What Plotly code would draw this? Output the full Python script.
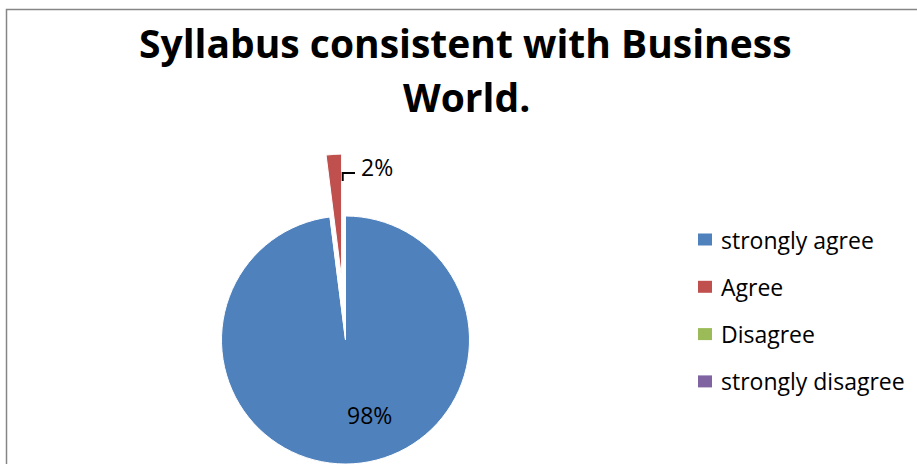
import plotly.graph_objects as go
import math

# ---- data ----
labels = ["strongly agree", "Agree", "Disagree", "strongly disagree"]
values = [98, 2, 0, 0]
colors = ["#4F81BD", "#C0504D", "#9BBB59", "#8064A2"]
title_lines = ["Syllabus consistent with Business", "World."]
pull_label = "Agree"
pull_amount = 0.5

W, H = 917, 464
FONT = "Open Sans"

def px(x):
    return x / W

def py(y):
    return 1 - y / H

total = sum(values)
pcts = [f"{round(v / total * 100)}%" for v in values]

# pie geometry (pixels)
cx, cy, r = 345.5, 340.0, 124.0
idx = labels.index(pull_label)
start = sum(values[:idx]) / total * 2 * math.pi
mid = start + values[idx] / total * math.pi
dx = pull_amount * r * math.sin(mid)
dy = -pull_amount * r * math.cos(mid)

def dom(cxp, cyp):
    return dict(x=[px(cxp - r), px(cxp + r)], y=[py(cyp + r), py(cyp - r)])

clear = "rgba(0,0,0,0)"
main_colors = [c if i != idx else clear for i, c in enumerate(colors)]
pull_colors = [c if i == idx else clear for i, c in enumerate(colors)]
pull_widths = [1 if i == idx else 0 for i in range(len(labels))]

fig = go.Figure()
fig.add_trace(go.Pie(
    labels=labels, values=values, sort=False, direction="clockwise", rotation=0,
    marker=dict(colors=main_colors, line=dict(color="white", width=1)),
    textinfo="none", hoverinfo="label+percent", showlegend=False,
    domain=dom(cx, cy),
))
fig.add_trace(go.Pie(
    labels=labels, values=values, sort=False, direction="clockwise", rotation=0,
    marker=dict(colors=pull_colors, line=dict(color="white", width=pull_widths)),
    textinfo="none", hoverinfo="label+percent", showlegend=False,
    domain=dom(cx + dx, cy + dy),
))

annotations = []
# title
annotations.append(dict(text=f"<b>{title_lines[0]}</b>", x=px(465), y=py(42), xref="paper", yref="paper",
                        xanchor="center", yanchor="middle", showarrow=False,
                        font=dict(family=FONT, size=39, color="black")))
annotations.append(dict(text=f"<b>{title_lines[1]}</b>", x=px(466.5), y=py(96.5), xref="paper", yref="paper",
                        xanchor="center", yanchor="middle", showarrow=False,
                        font=dict(family=FONT, size=39, color="black")))
# percentage labels
annotations.append(dict(text=pcts[0], x=px(369.5), y=py(414.5), xref="paper", yref="paper",
                        xanchor="center", yanchor="middle", showarrow=False,
                        font=dict(family=FONT, size=23, color="black")))
annotations.append(dict(text=pcts[idx], x=px(359), y=py(166.5), xref="paper", yref="paper",
                        xanchor="left", yanchor="middle", showarrow=False,
                        font=dict(family=FONT, size=23, color="black")))

shapes = []
# leader line for small slice label
shapes.append(dict(type="path", xref="paper", yref="paper",
                   path=f"M {px(342.7)} {py(181)} L {px(342.7)} {py(173)} L {px(355)} {py(173)}",
                   line=dict(color="black", width=2)))
# chart border
shapes.append(dict(type="rect", xref="paper", yref="paper",
                   x0=px(6.5), x1=px(W + 10), y0=py(H + 10), y1=py(9.5),
                   line=dict(color="#868686", width=1.5), fillcolor=clear, layer="below"))

# manual legend
leg_x, leg_y0, leg_dy = 698, 239.5, 47.3
for i, (lab, col) in enumerate(zip(labels, colors)):
    yc = leg_y0 + i * leg_dy
    shapes.append(dict(type="rect", xref="paper", yref="paper",
                       x0=px(leg_x), x1=px(leg_x + 14), y0=py(yc + 6), y1=py(yc - 6),
                       fillcolor=col, line=dict(width=0)))
    annotations.append(dict(text=lab, x=px(719), y=py(yc), xref="paper", yref="paper",
                            xanchor="left", yanchor="middle", showarrow=False,
                            font=dict(family=FONT, size=23, color="black")))

fig.update_layout(
    width=W, height=H,
    margin=dict(l=0, r=0, t=0, b=0),
    paper_bgcolor="white", plot_bgcolor="white",
    annotations=annotations, shapes=shapes,
    showlegend=False,
)

fig.write_html("out.html", config={"displayModeBar": False},
               post_script="document.body.style.margin='0';document.body.style.overflow='hidden';")
